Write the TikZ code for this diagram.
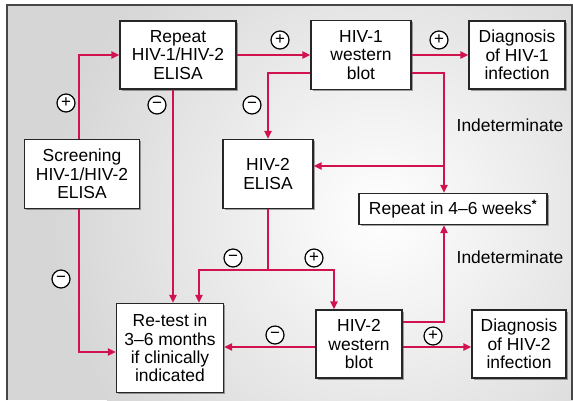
\documentclass[tikz,border=0pt]{standalone}
\usepackage{fontspec}
\setmainfont{Liberation Sans}
\usetikzlibrary{shadows,arrows.meta,calc}
\definecolor{hivred}{RGB}{210,18,78}
\definecolor{framegray}{RGB}{70,70,70}
\definecolor{bggray}{RGB}{214,214,214}
\begin{document}
\begin{tikzpicture}[x=1bp,y=-1bp,
  box/.style={draw=black!85,line width=1.1bp,fill=white,align=center,inner sep=0pt,
    font=\fontsize{17.5}{18.5}\selectfont,
    drop shadow={shadow xshift=1.6bp,shadow yshift=-1.6bp,opacity=0.35,fill=black}},
  conn/.style={draw=hivred,line width=2bp,-{Triangle[length=8bp,width=7bp]}},
  plainline/.style={draw=hivred,line width=2bp},
  sgn/.style={circle,draw=black,line width=1.2bp,fill=white,minimum size=18bp,inner sep=0pt,
    font=\fontsize{17}{17}\selectfont},
  lbl/.style={font=\fontsize{17.5}{18.5}\selectfont,inner sep=0pt}]
\useasboundingbox (0,0) rectangle (573,400);
\fill[white] (0,0) rectangle (573,400);
\begin{scope}
\clip (7,5) rectangle (573,400);
\fill[bggray] (7,5) rectangle (573,400);
\shade[inner color=white,outer color=bggray] (380,215) circle (330);
\end{scope}
\draw[framegray,line width=1.4bp] (7,400) -- (7,5) -- (572,5) -- (572,400);

\node[box,minimum width=116bp,minimum height=68bp] (rep) at (178,55) {Repeat\\HIV-1/HIV-2\\ELISA};
\node[box,minimum width=115bp,minimum height=69bp] (scr) at (82,174) {Screening\\HIV-1/HIV-2\\ELISA};
\node[box,minimum width=90bp,minimum height=69bp] (e2) at (268,174) {HIV-2\\ELISA};
\node[box,minimum width=100bp,minimum height=69bp] (wb1) at (361,55) {HIV-1\\western\\blot};
\node[box,minimum width=96bp,minimum height=68bp] (d1) at (517,55) {Diagnosis\\of HIV-1\\infection};
\node[box,minimum width=188bp,minimum height=31bp] (r46) at (453,209) {Repeat in 4–6 weeks\textsuperscript{\textbf{*}}};
\node[box,minimum width=107bp,minimum height=89bp] (rt) at (170,348) {Re-test in\\3–6 months\\if clinically\\indicated};
\node[box,minimum width=86bp,minimum height=68bp] (wb2) at (359,344) {HIV-2\\western\\blot};
\node[box,minimum width=94bp,minimum height=68bp] (d2) at (519,344) {Diagnosis\\of HIV-2\\infection};

\coordinate (ja) at (444,166);
\coordinate (j2) at (268,270);

\draw[conn] ([xshift=-3bp]scr.north) |- (rep.west);
\draw[conn] ([xshift=-3bp]scr.south) |- ([yshift=-4bp]rt.west);
\draw[conn] ([xshift=-5bp]rep.south) -- ([xshift=-5bp]rep.south |- rt.north);
\draw[conn] (rep.east) -- (rep.east -| wb1.west);
\draw[conn] ([yshift=-18bp]wb1.west) -| (e2.north);
\draw[conn] (wb1.east) -- (wb1.east -| d1.west);
\draw[conn] ([yshift=-18bp]wb1.east) -| ([xshift=-9bp]r46.north);
\draw[conn] (ja) -- (ja -| e2.east);
\draw[plainline] (e2.south) -- (j2);
\draw[conn] (j2) -| ([xshift=29bp]rt.north);
\draw[conn] (j2) -| ([xshift=-25bp]wb2.north);
\draw[conn] ([yshift=-3bp]wb2.west) -- ([yshift=-3bp]wb2.west -| rt.east);
\draw[conn] ([yshift=22bp]wb2.east) -| ([xshift=-9bp]r46.south);
\draw[conn] ([yshift=-3bp]wb2.east) -- ([yshift=-3bp]wb2.east -| d2.west);

\node[sgn] (p1) at (66,103) {+};
\node[sgn] (p2) at (280,40) {+};
\node[sgn] (p3) at (439,40) {+};
\node[sgn] (p4) at (314,258) {+};
\node[sgn] (p5) at (433,336) {+};
\node[sgn] (m1) at (157,105) {−};
\node[sgn] (m2) at (252,105) {−};
\node[sgn] (m3) at (61,279) {−};
\node[sgn] (m4) at (233,258) {−};
\node[sgn] (m5) at (275,335) {−};

\node[lbl] (ind1) at (510,125) {Indeterminate};
\node[lbl] (ind2) at (510,257) {Indeterminate};
\end{tikzpicture}
\end{document}
